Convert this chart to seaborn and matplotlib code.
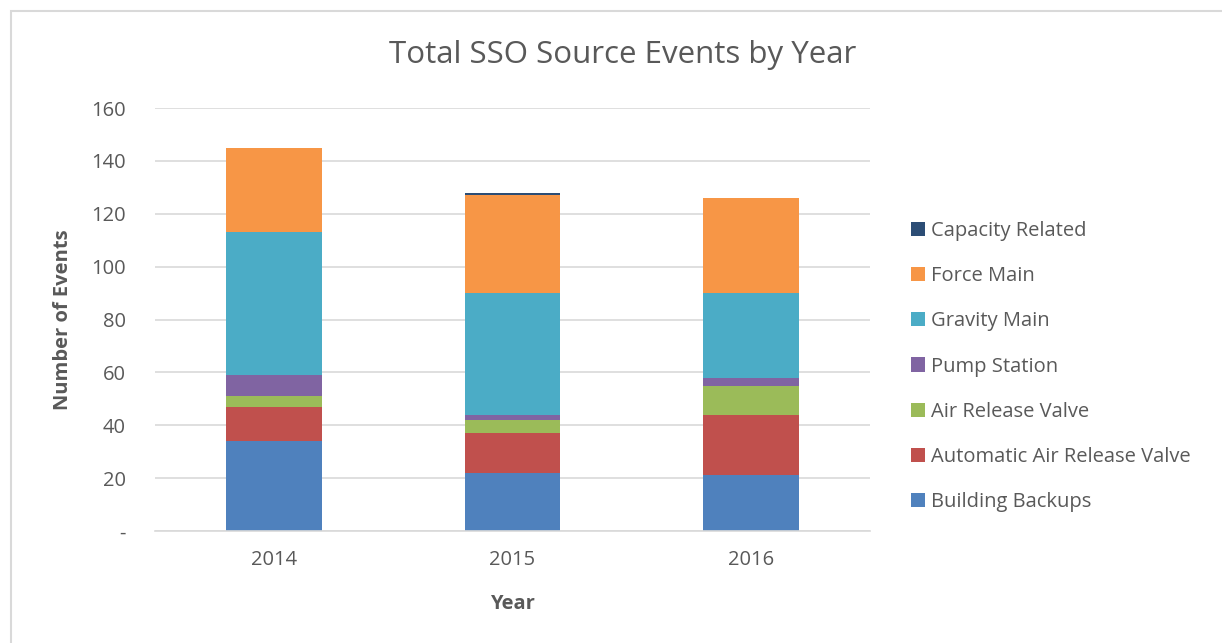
import pandas as pd
import numpy as np
import matplotlib.pyplot as plt
import seaborn as sns
from matplotlib.patches import Rectangle, Patch

# values
years = ['2014', '2015', '2016']
building_backups = [34, 22, 21]
auto_air_release = [13, 15, 23]
air_release = [4, 5, 11]
pump_station = [8, 2, 3]
gravity_main = [54, 46, 32]
force_main = [32, 37, 36]
capacity_related = [0, 1, 0]

series = ['Building Backups', 'Automatic Air Release Valve', 'Air Release Valve',
          'Pump Station', 'Gravity Main', 'Force Main', 'Capacity Related']
colors = ['#4F81BD', '#C0504D', '#9BBB59', '#8064A2', '#4BACC6', '#F79646', '#2C4D75']

df = pd.DataFrame({
    'Year': years,
    'Building Backups': building_backups,
    'Automatic Air Release Valve': auto_air_release,
    'Air Release Valve': air_release,
    'Pump Station': pump_station,
    'Gravity Main': gravity_main,
    'Force Main': force_main,
    'Capacity Related': capacity_related,
})

# cumulative tops, drawn from the tallest down so each layer covers the next
cum = df[series].cumsum(axis=1)
cum['Year'] = df['Year']

sns.set_style('white')
plt.rcParams['font.family'] = ['Open Sans', 'DejaVu Sans']
text_col = '#595959'
fs = 14.5

fig = plt.figure(figsize=(12.22, 6.43), dpi=100)
ax = fig.add_axes([155 / 1222, 1 - 531 / 643, 715 / 1222, 423 / 643])

for name, col in reversed(list(zip(series, colors))):
    sns.barplot(data=cum, x='Year', y=name, color=col, width=0.4, ax=ax,
                saturation=1, edgecolor='none', linewidth=0)

ax.set_ylim(0, 160)
ax.set_yticks(range(0, 161, 20))
ax.set_yticklabels(['-'] + [str(v) for v in range(20, 161, 20)])
ax.yaxis.grid(True, color='#D9D9D9', linewidth=1.2)
ax.set_axisbelow(True)
for s in ['top', 'right', 'left']:
    ax.spines[s].set_visible(False)
ax.spines['bottom'].set_color('#D9D9D9')
ax.spines['bottom'].set_linewidth(1.2)
ax.tick_params(axis='y', length=0, pad=21, labelsize=fs, labelcolor=text_col)
ax.tick_params(axis='x', length=0, pad=14, labelsize=fs, labelcolor=text_col)

ax.set_xlabel('Year', fontsize=fs, fontweight='bold', color=text_col, labelpad=17)
ax.set_ylabel('Number of Events', fontsize=fs, fontweight='bold', color=text_col, labelpad=13)
fig.text(623 / 1222, 1 - 55 / 643, 'Total SSO Source Events by Year', ha='center', va='center',
         fontsize=22.5, color=text_col)

handles = [Patch(facecolor=c, edgecolor='none') for c in colors]
leg = fig.legend(handles[::-1], series[::-1], loc='upper left',
                 bbox_to_anchor=(903 / 1222, 1 - 213 / 643), frameon=False,
                 fontsize=fs, handlelength=0.7, handleheight=0.7, handletextpad=0.3,
                 labelspacing=1.25, borderaxespad=0)
for t in leg.get_texts():
    t.set_color(text_col)

# outer chart border
fig.patches.append(Rectangle((10.5 / 1222, -0.1), 1.2, 1 - 10.5 / 643 + 0.1,
                             transform=fig.transFigure, fill=False,
                             edgecolor='#D9D9D9', linewidth=1.5))

fig.savefig('out.png', dpi=100)
